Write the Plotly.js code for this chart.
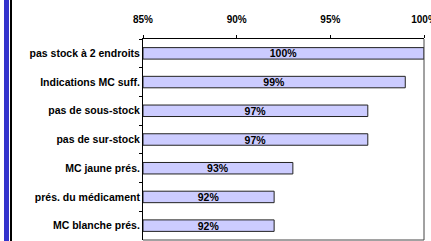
<!DOCTYPE html>
<html>
<head>
<meta charset="utf-8">
<script src="https://cdn.plot.ly/plotly-3.0.1.min.js"></script>
<style>
  html, body { margin: 0; padding: 0; background: #fff; }
  #wrap { position: relative; width: 431px; height: 241px; overflow: hidden; }
  #chart { position: absolute; left: 0; top: 0; width: 431px; height: 241px; }
  .stripe { position: absolute; left: 4px; top: 0; width: 5px; height: 241px; background: #3333cc; }
  .rule { position: absolute; left: 10px; top: 0; width: 1.5px; height: 241px; background: #000; }
</style>
</head>
<body>
<div id="wrap">
  <div id="chart"></div>
  <div class="stripe"></div>
  <div class="rule"></div>
</div>
<script>
const categories = [
  "pas stock à 2 endroits",
  "Indications MC suff.",
  "pas de sous-stock",
  "pas de sur-stock",
  "MC jaune prés.",
  "prés. du médicament",
  "MC blanche prés."
];
const values = [100, 99, 97, 97, 93, 92, 92];
const xTickVals = [85, 90, 95, 100];
const xTickText = ["85%", "90%", "95%", "100%"];
const axisMin = 85;

const FAM = "Liberation Sans, Arial, sans-serif";

const trace = {
  type: "bar",
  orientation: "h",
  y: categories,
  x: values.map(v => v - axisMin),
  base: axisMin,
  text: values.map(v => v + "%"),
  textposition: "inside",
  insidetextanchor: "middle",
  constraintext: "none",
  textfont: { family: FAM, size: 10.5, color: "#000", weight: "bold" },
  marker: { color: "#ccccff", line: { color: "#222", width: 1 } },
  hoverinfo: "none"
};

const layout = {
  width: 431,
  height: 241,
  margin: { l: 143, r: 7, t: 39, b: 1, pad: 0, autoexpand: false },
  paper_bgcolor: "#fff",
  plot_bgcolor: "#fff",
  showlegend: false,
  bargap: 0.6,
  font: { family: FAM, size: 10, color: "#000", weight: "bold" },
  xaxis: {
    side: "top",
    range: [85, 100],
    tickmode: "array",
    tickvals: xTickVals,
    ticktext: xTickText,
    showgrid: false,
    zeroline: false,
    showline: true,
    linecolor: "#000",
    linewidth: 1,
    ticks: "outside",
    ticklen: 3,
    tickcolor: "#000",
    ticklabelstandoff: 8,
    ticklabeloverflow: "allow",
    automargin: false,
    tickfont: { family: FAM, size: 10, color: "#000", weight: "bold" },
    fixedrange: true
  },
  yaxis: {
    type: "category",
    autorange: "reversed",
    showgrid: false,
    zeroline: false,
    showline: true,
    linecolor: "#000",
    linewidth: 1,
    ticks: "outside",
    tickson: "boundaries",
    ticklen: 3,
    tickcolor: "#000",
    automargin: false,
    tickfont: { family: FAM, size: 10.5, color: "#000", weight: "bold" },
    fixedrange: true
  },
  shapes: [
    { type: "line", xref: "paper", yref: "paper", x0: 1, x1: 1, y0: 0, y1: 1, line: { color: "#444", width: 1 } },
    { type: "line", xref: "paper", yref: "paper", x0: 0, x1: 1, y0: 0, y1: 0, line: { color: "#444", width: 1 } }
  ]
};
Plotly.newPlot("chart", [trace], layout, { staticPlot: true, displayModeBar: false });
</script>
</body>
</html>
